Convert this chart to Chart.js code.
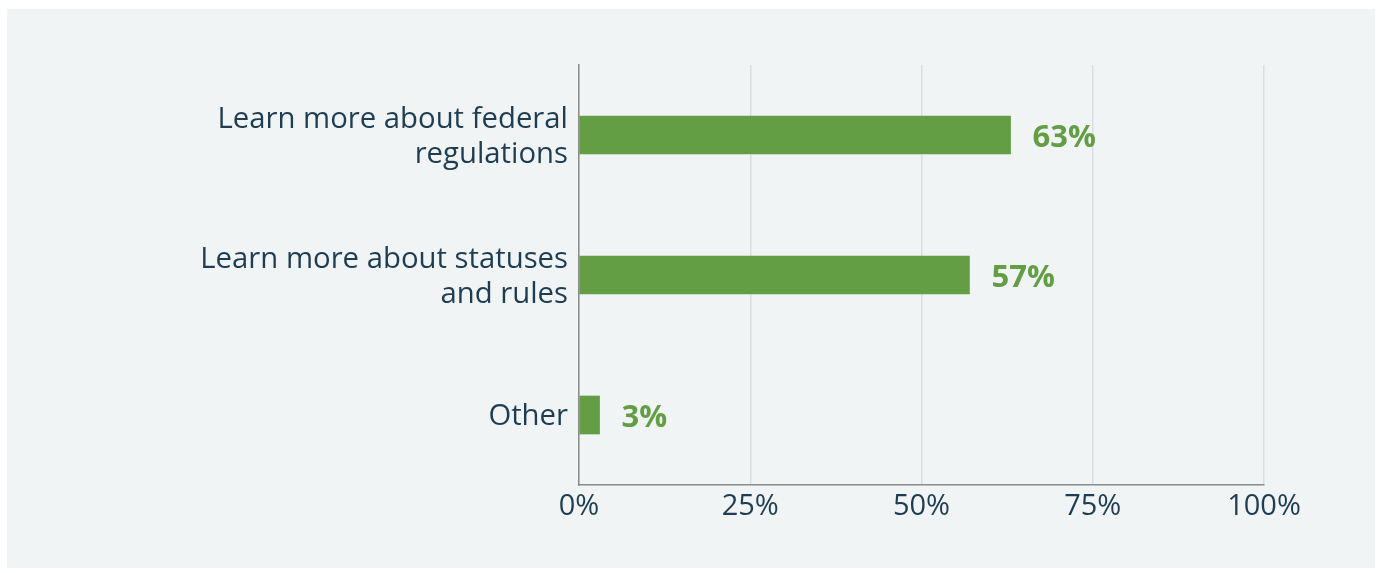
<!DOCTYPE html>
<html>
<head>
<meta charset="utf-8">
<script src="https://cdn.jsdelivr.net/npm/chart.js@4.4.1/dist/chart.umd.min.js"></script>
<style>
  html, body { margin: 0; padding: 0; background: #ffffff; }
  #panel {
    position: absolute; left: 7px; top: 9px;
    width: 1368px; height: 559px;
    background: #f0f4f5;
  }
  #panel canvas { display: block; }
</style>
</head>
<body>
<div id="panel"><canvas id="barChart" width="1368" height="559"></canvas></div>
<script>
// survey answers, share of respondents (%)
const categories = [
  ["Learn more about federal", "regulations"],
  ["Learn more about statuses", "and rules"],
  "Other",
];
const shares = [63, 57, 3];
const tickValues = [0, 25, 50, 75, 100];

const textColor = "#1f3d52";
const barColor = "#639e44";

// percentage labels to the right of each bar
const valueLabels = {
  id: "valueLabels",
  afterDatasetsDraw(chart) {
    const { ctx } = chart;
    const meta = chart.getDatasetMeta(0);
    ctx.save();
    ctx.font = "bold 31px 'Open Sans'";
    ctx.fillStyle = barColor;
    ctx.textAlign = "left";
    ctx.textBaseline = "middle";
    meta.data.forEach((bar, i) => {
      ctx.fillText(shares[i] + "%", bar.x + 22, bar.y + 3);
    });
    ctx.restore();
  },
};

const ctx = document.getElementById("barChart").getContext("2d");
new Chart(ctx, {
  type: "bar",
  data: {
    labels: categories,
    datasets: [
      {
        data: shares,
        backgroundColor: barColor,
        barThickness: 38,
      },
    ],
  },
  options: {
    indexAxis: "y",
    responsive: false,
    animation: false,
    layout: { padding: { left: 0, right: 111, top: 56, bottom: 0 } },
    plugins: {
      legend: { display: false },
      tooltip: { enabled: false },
    },
    scales: {
      x: {
        min: 0,
        max: 100,
        afterBuildTicks: (scale) => {
          scale.ticks = tickValues.map((v) => ({ value: v }));
        },
        afterFit: (scale) => {
          scale.height = 83;
        },
        ticks: {
          callback: (v) => v + "%",
          color: textColor,
          font: { family: "'Open Sans'", size: 29 },
          padding: 4,
          maxRotation: 0,
        },
        grid: {
          color: "#dadee0",
          lineWidth: 1.5,
          drawTicks: false,
        },
        border: { color: "#8c8c8c", width: 1.5 },
      },
      y: {
        afterFit: (scale) => {
          scale.width = 572;
        },
        ticks: {
          color: textColor,
          font: { family: "'Open Sans'", size: 29.3, lineHeight: 1.2 },
          padding: 11,
          labelOffset: 2,
        },
        grid: { display: false, drawTicks: false },
        border: { color: "#8c8c8c", width: 1.5 },
      },
    },
  },
  plugins: [valueLabels],
});
</script>
</body>
</html>
